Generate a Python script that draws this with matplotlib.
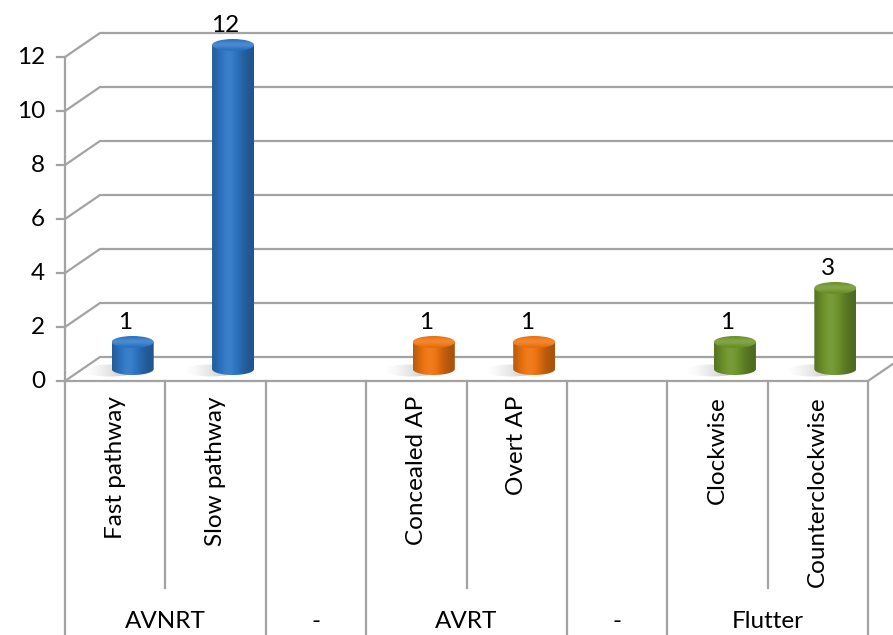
import numpy as np
import matplotlib
matplotlib.use("Agg")
import matplotlib.pyplot as plt
from matplotlib.path import Path
from matplotlib.patches import PathPatch, Ellipse
from matplotlib.colors import to_rgb

# ---- data ----
categories = ["Fast pathway", "Slow pathway", "", "Concealed AP", "Overt AP", "",
              "Clockwise", "Counterclockwise"]
values = [1, 12, None, 1, 1, None, 1, 3]
groups = ["AVNRT", "-", "AVRT", "-", "Flutter"]
group_sizes = [2, 1, 2, 1, 2]
yticks = [0, 2, 4, 6, 8, 10, 12]
series_colors = ["#2e77c6", "#2e77c6", None, "#ee7410", "#ee7410", None, "#6f952c", "#6f952c"]

# ---- layout ----
W, H = 893, 635
fig = plt.figure(figsize=(W / 100, H / 100), dpi=100)
ax = fig.add_axes([0, 0, 1, 1])
ax.axis("off")

px_x = 100.375   # px per category
px_y = 27.0      # px per unit
x0_px, y0_px = 65, 381
xmin = -x0_px / px_x
xmax = (W - x0_px) / px_x
ymax = y0_px / px_y
ymin = -(H - y0_px) / px_y
DX = 35 / px_x
DY = 24 / px_y

FONT = ["Lato", "DejaVu Sans"]
FS = 17.5
GRID = "#a3a3a3"
LW = 1.6
n = len(categories)

# gridlines / back wall
for v in yticks:
    ax.plot([0, DX, xmax + 1], [v, v + DY, v + DY], color=GRID, lw=LW, zorder=1,
            solid_capstyle="butt")
    ax.plot([-0.08, 0], [v, v], color=GRID, lw=LW, zorder=1)
    ax.text(-0.2, v, str(v), ha="right", va="center", fontsize=FS, family=FONT,
            color="#000000")
# front axis
ax.plot([0, 0], [0, yticks[-1]], color=GRID, lw=LW, zorder=1)
# floor front edge and right diagonal
ax.plot([0, n], [0, 0], color=GRID, lw=LW, zorder=1)
ax.plot([n, n + DX], [0, DY], color=GRID, lw=LW, zorder=1)

# category separators
bounds = [0]
for s in group_sizes:
    bounds.append(bounds[-1] + s)
inner_bottom = -(588 - y0_px) / px_y
for k in range(n + 1):
    yb = ymin - 1 if k in bounds else inner_bottom
    ax.plot([k, k], [0, yb], color=GRID, lw=LW, zorder=1)

# category labels
for i, c in enumerate(categories):
    if c:
        ax.text(i + 0.5, -15 / px_y, c, rotation=90, ha="center", va="top",
                fontsize=FS, family=FONT, color="#000000")
# group labels
for g, a, b in zip(groups, bounds[:-1], bounds[1:]):
    ax.text((a + b) / 2, -(622 - y0_px) / px_y, g, ha="center", va="center",
            fontsize=FS, family=FONT, color="#000000")


def shade(color, f):
    c = np.array(to_rgb(color))
    if f >= 1:
        return np.clip(c + (1 - c) * (f - 1), 0, 1)
    return c * f


R = 21.0 / px_x
EH = 6.0 / px_y
prof = np.linspace(0, 1, 64)
# brightness profile across the cylinder
bright = 0.70 + 0.36 * np.exp(-((prof - 0.40) / 0.33) ** 2)

for i, (v, col) in enumerate(zip(values, series_colors)):
    if v is None:
        continue
    cx = i + 0.5 + DX / 2
    yb = DY / 2
    yt = v + DY / 2
    # shadow on floor
    sh = np.zeros((1, 64, 4))
    sh[..., :3] = 0.35
    sh[0, :, 3] = np.linspace(0.0, 0.55, 64) ** 1.5
    se = Ellipse((cx - 1.1 * R, yb - 0.25 * EH), 2.6 * R, 2.0 * EH,
                 facecolor="none", edgecolor="none")
    ax.add_patch(se)
    im = ax.imshow(sh, extent=(cx - 2.4 * R, cx, yb - 1.4 * EH, yb + 0.8 * EH),
                   aspect="auto", zorder=2, interpolation="bilinear")
    im.set_clip_path(se)
    # body
    t = np.linspace(np.pi, 2 * np.pi, 40)
    verts = [(cx - R, yt), (cx - R, yb)]
    verts += [(cx + R * np.cos(a), yb + EH * np.sin(a)) for a in t]
    verts += [(cx + R, yt), (cx - R, yt)]
    codes = [Path.MOVETO] + [Path.LINETO] * (len(verts) - 2) + [Path.CLOSEPOLY]
    body = PathPatch(Path(verts, codes), facecolor="none", edgecolor="none")
    ax.add_patch(body)
    img = np.array([[shade(col, b) for b in bright]])
    im = ax.imshow(img, extent=(cx - R, cx + R, yb - EH, yt), aspect="auto",
                   zorder=3, interpolation="bilinear")
    im.set_clip_path(body)
    # top cap
    cap = Ellipse((cx, yt), 2 * R, 2 * EH, facecolor="none", edgecolor="none")
    ax.add_patch(cap)
    capimg = np.array([[shade(col, 0.92 + 0.22 * np.exp(-((p - 0.45) / 0.35) ** 2))]
                       for p in np.linspace(0, 1, 32)])
    im = ax.imshow(capimg, extent=(cx - R, cx + R, yt - EH, yt + EH), aspect="auto",
                   zorder=4, interpolation="bilinear")
    im.set_clip_path(cap)
    # value label
    ax.text(i + 0.5 + 0.1, yt + 13 / px_y, str(v), ha="center", va="baseline",
            fontsize=FS, family=FONT, color="#000000", zorder=5)

ax.set_xlim(xmin, xmax)
ax.set_ylim(ymin, ymax)
fig.savefig("out.png", dpi=100, facecolor="white")
